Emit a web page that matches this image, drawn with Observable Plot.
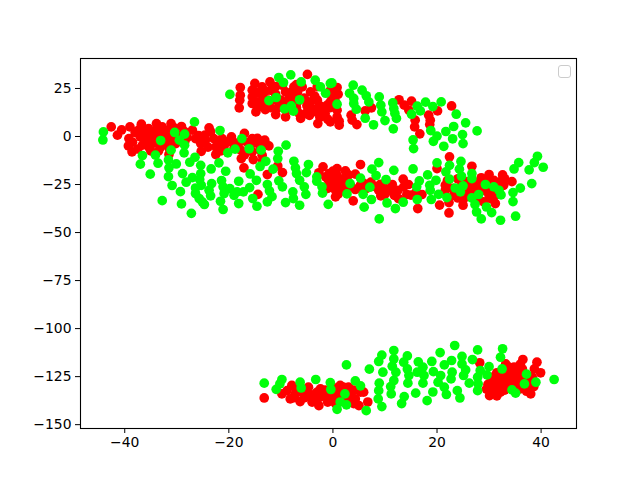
<!DOCTYPE html>
<html>
<head>
<meta charset="utf-8">
<script src="https://cdn.jsdelivr.net/npm/d3@7"></script>
<script src="https://cdn.jsdelivr.net/npm/@observablehq/plot@0.6"></script>
<style>
html,body{margin:0;padding:0;background:#fff}
#wrap{position:relative;width:640px;height:480px}
#legend{position:absolute;left:558px;top:65px;width:11px;height:11px;border:1.1px solid #ccc;border-radius:3px;background:rgba(255,255,255,.8)}
</style>
</head>
<body>
<div id="wrap"></div>
<script>
const xTicks = [-40,-20,0,20,40];
const yTicks = [-150,-125,-100,-75,-50,-25,0,25];
const redUpper = [[-17.8,25.5],[-17.8,21.5],[-17.9,18.9],[-18,14.9],[-15,27.6],[-15.5,24.1],[-15.5,20.6],[-15.5,17.2],[-14.8,12.8],[-13.6,25.8],[-13.6,21.5],[-13.6,17.2],[-12.1,28.4],[-12,24.1],[-11,18.9],[-11,11.4],[-9.7,26.7],[-9.1,23.2],[-8.4,19.8],[-9.1,10.2],[-7.5,25.8],[-7.5,21.5],[-6.8,18],[-6.2,9.4],[-5.9,25.8],[-6.8,23.2],[-4.9,32.3],[-4.3,23.2],[-4.3,18],[-5.2,12],[-3,18.9],[-3.3,12.8],[-2.9,6.7],[-1.1,16.3],[-2,13.7],[0.8,25.5],[-0.2,21],[0.8,13.7],[0.8,10.2],[1.2,5.9],[-0.5,7.6],[3.5,11.1],[3.7,8.5],[4.6,6.2],[6.2,13.3],[7.4,14.9],[12.7,19.1],[13.7,16.3],[15.1,18.4],[14.6,13.7],[15.8,8.5],[15.7,5],[16.7,1.4],[18.4,11.1],[18.7,8.5],[18.6,6.2],[20.1,13.3],[22.8,15.9],[-14.5,23],[-14.5,18],[-14.5,15],[-13,14],[-13,23.5],[-12.5,19],[-12,15],[-11,26],[-11,22],[-10.5,15],[-10,19],[-9,17],[-8.5,14],[-8,23],[-7,15],[-6.5,12],[-5.5,20],[-5,16],[-4,14],[-3.5,21],[-2.5,16],[-2.5,10],[-1.5,12],[-7,27],[-3,26],[-0.5,18],[-0.5,15],[0.5,18],[-0.5,24],[1,22],[1.2,8],[-4.5,11],[-3,14.8],[-1,9]];
const redMiddle = [[-42.6,5],[-40.6,3.4],[-41.4,0.7],[-39,5],[-36.8,6.4],[-33.9,6.7],[-31.1,6.7],[-29.1,5.2],[-39.2,-1.1],[-39.3,-4.9],[-38.6,-8],[-37,4.1],[-37,-0.2],[-36.6,-4.5],[-35.4,4.1],[-35.4,-0.2],[-35.4,-5.4],[-33.9,3.3],[-33.9,-1.1],[-33.1,-5.4],[-32.5,3.3],[-32.5,-1.1],[-31.5,3.3],[-31.2,-1.9],[-30.2,-3.7],[-31.5,-9.4],[-27,3.3],[-26.4,-1.1],[-23.8,4.5],[-24.6,0.7],[-25.4,-3.7],[-25.3,-7.7],[-22.9,-1.1],[-22.5,-5.4],[-22.5,-9.4],[-21.3,-1.1],[-19.5,-0.2],[-20.9,-4.9],[-18.4,-4.9],[-17,1.6],[-15.5,-1.1],[-13.1,-1.9],[-12.3,-4.9],[-17.7,-7.1],[-17.6,-11.5],[-17.1,-16.3],[-15.5,-8],[-15.3,-12],[-13.6,-9.7],[-12.6,-19.8],[-10.6,-15.3],[-9.7,-18.8],[-14.4,-30.1],[-1.9,-15.8],[-2.7,-18.9],[-0.7,-19.3],[-0.7,-23.3],[-1.4,-21],[0.8,-16.7],[2.4,-17.9],[5.3,-14.6],[4.3,-19.6],[-0.5,-19.3],[0.8,-20.2],[2.1,-21.9],[0.1,-24.5],[1.4,-25.4],[0.5,-28],[0.5,-31.4],[3.9,-33.5],[2.4,-26.2],[4.3,-27.6],[5.3,-25.4],[7.3,-23.8],[9.1,-24.9],[8.8,-28],[9.2,-30.9],[11.4,-25],[11,-28],[11.8,-30.6],[12.6,-32.3],[13.5,-22.2],[13.6,-26.2],[14.2,-30.2],[16.3,-37.5],[16,-28.8],[17.1,-30.2],[20,-16.7],[20.5,-35.7],[21.6,-25.4],[21.6,-28],[22.3,-34.4],[22.3,-39.8],[22.4,-10.6],[26.7,-15.5],[23.2,-30.6],[24.8,-24.5],[24.8,-30.6],[25,-35.8],[26.1,-25.4],[27.1,-23.6],[27.7,-26.2],[26.4,-28.8],[30,-19.8],[29.6,-23.6],[30.9,-22.8],[32.6,-20],[32.5,-22.8],[32.8,-25.4],[34.4,-23.5],[29,-28],[30,-30.6],[29,-34],[30.3,-32.3],[31.2,-34.9],[-0.5,-24.5],[-38,2],[-38.5,-3],[-37.5,-6.5],[-36,2],[-36,-2.5],[-35,-7.5],[-34.5,1.5],[-34.5,-3.5],[-33.5,-7.5],[-32.8,5],[-32,0.5],[-32,-3.5],[-31.5,-6],[-30,1],[-29.8,-1],[-30.5,4.5],[-33,1],[-28.5,-3],[-25.8,0.5],[-24.5,-2],[-23.5,2.5],[-22,-3],[-20,-2.5],[-24,-5.5],[-19,-6],[-21.5,-7.5],[-16.5,-3],[-14.5,-3.5],[-16,-5.5],[-17,-9.5],[-14,-7],[-13.5,-12.5],[-37.5,3],[-28.5,2.5],[-28,-0.5],[-18,-3],[-15.5,-3.5],[-13,-4],[-14.5,-1],[-19,-3.5],[-1,-22],[0,-18],[1.5,-23],[3,-20],[3,-24],[2,-28],[-1,-27],[1,-30],[3.5,-26],[0,-21.5],[5,-27],[6,-24.5],[6.5,-27],[8,-26],[10,-27],[10,-30],[12.5,-28],[15,-30.5],[14.5,-25],[22,-23],[23,-27],[24,-32],[25.5,-27],[26,-31],[27,-30],[28,-24],[28.5,-21.5],[29,-25],[27.5,-28],[31,-25],[31,-28],[30,-27],[28,-33],[31,-31],[33,-22],[25,-33],[26,-23.5],[24,-22]];
const redLower = [[-13.2,-136.1],[-9.8,-134],[-8.8,-132.3],[-7.9,-129.6],[-8.2,-136.6],[-6.3,-138],[-7.2,-134],[-6,-133.1],[-4.7,-130.5],[-4.3,-134.9],[-4,-138.3],[-2.7,-140.1],[-2.4,-131.4],[-2.4,-135.7],[-1,-138.3],[-0.8,-134.9],[0.2,-134],[1.4,-129.6],[1.4,-134.9],[3,-130.5],[3.4,-134.9],[4.3,-136.6],[5.3,-133.1],[5,-140.1],[6.7,-138.2],[5.9,-133.1],[-3.4,-134],[-0.2,-137.5],[28.2,-117.8],[30.1,-134.9],[30.3,-130.5],[31.2,-124.4],[31.6,-128.8],[32.2,-133.1],[33.2,-118.4],[33.5,-123.6],[33.2,-127.9],[34.8,-120.1],[34.8,-124.4],[34.4,-128.8],[36.5,-116.1],[36.4,-121],[35.7,-126.2],[36,-131.4],[37.2,-132.6],[38.6,-130.2],[39.2,-117.5],[38.7,-121],[39.9,-123],[38.3,-125.3],[30.3,-127.9],[32.5,-126.2],[-7,-131.5],[-5.5,-136],[-3.5,-136.5],[-3,-133],[-1.5,-132],[-1,-136],[0.5,-136.5],[0.5,-131],[2,-132],[2.5,-136.5],[3,-138],[4,-132],[4,-139],[-5,-132.5],[-7.5,-136],[0.5,-139],[2,-130.5],[30.8,-133],[30.5,-125.5],[31,-131],[32,-125],[32.5,-130],[33,-132],[33.8,-120],[33.8,-125.5],[34.5,-122],[33.5,-129.5],[35.5,-123],[35.5,-128.5],[36,-118.5],[36.5,-124],[35,-131],[37,-127.5],[37.8,-130],[38,-134],[31.5,-123],[31.5,-135],[38,-128],[29.8,-129],[29.5,-131.5]];
const greenUpper = [[-19.8,21.9],[-10.4,30.7],[-9.5,28.1],[-8.1,32.1],[-6.1,28.4],[-3.4,29.3],[-2.4,25.8],[-1.4,22.5],[-0.5,27.6],[-12.3,18.7],[-10.9,20.3],[-6.4,19.1],[-9.3,14.4],[-8,15.9],[-7.6,13.2],[-0.2,27.9],[3.9,26.7],[3.2,22.5],[5.6,24.1],[6.4,21.2],[6.9,18],[4,19.8],[4,17.2],[4.5,14.2],[0.8,16.8],[8.9,20.6],[9.2,16.3],[9.4,12.8],[10,8.3],[11.5,17.5],[11.7,14.6],[11.9,12],[12.2,9.4],[11.6,4],[7.8,6.1],[6.2,9.5],[15.1,11.6],[16.2,15.8],[16.8,13.3],[17.8,17.9],[19.2,15.6],[20.8,18],[23.7,11.6],[25.5,7.1],[23.2,5.2],[21.7,2.6],[18.8,3.1],[20,0.2],[19.3,-2.5],[15.4,-1.8],[15.5,-6.3],[24.9,1],[23,-1.2],[25,-3.7],[21.3,-5.1],[27.7,2.9]];
const greenMiddle = [[-44.1,2.4],[-44.2,-1.8],[-26.6,7.6],[-30.4,2.1],[-28.5,1.2],[-33.1,-2.1],[-29.5,-1.9],[-21.7,3.1],[-17.5,-1.1],[-31.1,-7.1],[-28.5,-4.5],[-28.6,-8.5],[-36.6,-9.9],[-34.1,-9.7],[-37,-14.4],[-33.6,-13.9],[-31.6,-12.2],[-30.1,-14.3],[-31.5,-16.3],[-35.1,-19.6],[-31.6,-20.9],[-28.9,-19.3],[-30.9,-25.5],[-29.3,-28.7],[-32.8,-33.4],[-29.1,-35.1],[-27.2,-40],[-26.5,-10.8],[-27.5,-13.4],[-25.4,-15],[-23.4,-16.9],[-21.9,-13.7],[-20.6,-18.1],[-20.2,-8.5],[-18.8,-6.6],[-16.1,-6.4],[-13.8,-7.1],[-10.5,-7.7],[-9,-4.5],[-10.6,-11.5],[-12.9,-12.9],[-14,-15.6],[-11.5,-17],[-7.5,-12.9],[-7.2,-16.3],[-4.7,-14.6],[-5.1,-18.8],[-7,-19.3],[-6.4,-22.8],[-5.5,-26.2],[-5.2,-30.1],[-3.1,-21],[-3.1,-23.3],[-2.1,-26.2],[-2,-29.5],[-0.9,-35.3],[-15.9,-19.5],[-14.7,-22.8],[-10.4,-23.1],[-9.7,-26.2],[-12.6,-25],[-12.2,-28.3],[-11.7,-31.3],[-12.6,-34],[-7.7,-28.8],[-7.6,-32.3],[-9.1,-34.4],[-6.4,-35.8],[-15.4,-32.3],[-14.6,-36.3],[-18.1,-23.3],[-16,-26.6],[-17.2,-28.8],[-18.4,-28.8],[-21.4,-22.9],[-21.1,-26.2],[-25.4,-19.3],[-25.6,-22.4],[-27,-21.4],[-28.2,-23.8],[-23.3,-24.5],[-23.8,-28],[-26.4,-26.8],[-25.3,-25.4],[-26.4,-29.7],[-25.7,-32.3],[-24.7,-35.4],[-23.5,-30.9],[-20.9,-29.7],[-21.6,-33.7],[-21.1,-38],[-19.8,-27.1],[-19,-30.6],[-18.1,-34.9],[-25.1,-34],[8.8,-13.6],[7.5,-17],[8.3,-20.3],[11.7,-17.6],[15.4,-16.9],[10.2,-22.4],[5.3,-21.7],[3.3,-24.5],[2.7,-29.9],[5.8,-30.1],[7.1,-26.4],[7.4,-32.8],[6,-36.8],[8.9,-42.9],[10.4,-34.6],[12,-37.5],[13.5,-34.2],[18.2,-20],[20,-13.7],[16.6,-23.1],[16.1,-26.2],[19.8,-22.8],[18.6,-25.4],[18.7,-28],[20.3,-30.1],[18.9,-32.8],[16.2,-32.8],[21.9,-31.8],[21.7,-18.4],[22.4,-15],[24.6,-13],[24.3,-17],[22.4,-22.2],[24.7,-20.7],[26.7,-19.3],[26.7,-21.9],[23.5,-26.8],[25,-25.7],[24.5,-28.8],[26.7,-32],[28,-30.2],[27.3,-35.4],[27.6,-39.3],[28.5,-42.9],[29.5,-36.7],[30.5,-39.6],[32.2,-43.6],[29.3,-25],[30.9,-26.2],[31.9,-28],[32.3,-30.4],[34.6,-29.2],[36,-26.9],[34.6,-33.9],[35.1,-41.5],[38.2,-24.5],[37.7,-17.4],[38.7,-13.6],[39.3,-10.3],[40.4,-16],[34.8,-16.9],[35.7,-13.6]];
const greenLower = [[-13.2,-128.4],[-9.8,-126.5],[-10.2,-128.8],[-10.9,-131.6],[-6.3,-127.9],[-6.1,-130.9],[-3.3,-126.5],[-0.5,-128.1],[-0.4,-131.7],[4.3,-127.2],[5.3,-129.8],[2.3,-134],[1.4,-138.2],[0.8,-142],[2.6,-139.7],[6.4,-142.7],[2.6,-118.9],[7,-121.1],[9.4,-113.8],[8.8,-117.1],[11.7,-111.4],[11.7,-115.8],[11.4,-119.6],[12.1,-122.7],[11.7,-127],[9.6,-122.7],[8.9,-128.4],[11.1,-130.2],[8.8,-132.3],[11.2,-134],[8.7,-136.6],[9.4,-140.6],[14.3,-114.2],[13.6,-117.5],[14.3,-121],[14.6,-124.4],[14.4,-128.4],[13.7,-135.4],[13.2,-139],[15.9,-133.6],[16.4,-117.3],[17.3,-120.1],[16.2,-122.7],[17.5,-124.4],[17.3,-128.4],[19,-117.1],[19.3,-122.4],[20.7,-124.4],[20.2,-127.9],[21.4,-130.5],[19.2,-133],[21.8,-134.3],[18.1,-137.5],[20.6,-112.5],[23.4,-108.8],[21.4,-118.9],[22.8,-116.6],[24.8,-114.5],[24.8,-118.4],[25.5,-121.5],[22.9,-122.7],[22.7,-126.2],[25.1,-124.4],[26.2,-128.4],[27.8,-111.1],[26.8,-116.1],[28.3,-121.8],[29.6,-124.1],[30,-119.8],[27.8,-125.3],[27.9,-128.8],[27.8,-132.3],[23.9,-132.3],[24.4,-136.1],[32.6,-110.5],[32.2,-114.9],[32.5,-121],[37.2,-123.7],[36.8,-128.8],[39,-127.9],[42.5,-126.5],[34.4,-131.9],[35.1,-133.6]];
const redPoints = [...redUpper,...redMiddle,...redLower];
const greenPoints = [...greenUpper,...greenMiddle,...greenLower];
const chart = Plot.plot({
  width:640,height:480,marginLeft:80,marginRight:64,marginTop:58,marginBottom:52,
  style:{fontFamily:"DejaVu Sans",fontSize:"13.9px",background:"#fff",color:"#000"},
  x:{domain:[-48.5,46.8],label:null},
  y:{domain:[-152,40.6],label:null},
  marks:[
    Plot.dot(redPoints,{x:d=>d[0],y:d=>d[1],r:4.85,fill:"#ff0000",stroke:"none"}),
    Plot.dot(greenPoints,{x:d=>d[0],y:d=>d[1],r:4.85,fill:"#00ff0a",stroke:"none"}),
    Plot.frame({stroke:"#000",strokeWidth:1.1,strokeOpacity:1}),
    Plot.axisX({ticks:xTicks,tickSize:5,tickPadding:4,label:null,fontSize:13.9,strokeOpacity:1}),
    Plot.axisY({ticks:yTicks,tickSize:5,tickPadding:4,label:null,fontSize:13.9,strokeOpacity:1})
  ]
});
const wrap=document.getElementById("wrap");
wrap.appendChild(chart);
const legend=document.createElement("div");legend.id="legend";wrap.appendChild(legend);
</script>
</body>
</html>
